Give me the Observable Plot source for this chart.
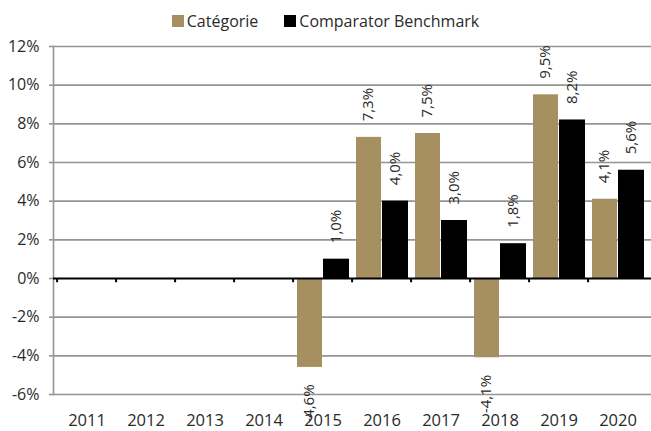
<!DOCTYPE html>
<html>
<head>
<meta charset="utf-8">
<script src="https://cdn.jsdelivr.net/npm/d3@7"></script>
<script src="https://cdn.jsdelivr.net/npm/@observablehq/plot@0.6"></script>
<style>
  html, body { margin: 0; padding: 0; background: white; }
  body { width: 651px; height: 431px; overflow: hidden; font-family: "Open Sans", sans-serif; color: #2a2a2a; }
  #legend { height: 35px; display: flex; justify-content: center; align-items: center; padding-top: 7px; box-sizing: border-box; font-size: 16px; }
  .item { display: flex; align-items: center; margin: 0 13px; }
  .sw { width: 12px; height: 12px; margin-right: 3px; }
</style>
</head>
<body>
<div id="legend"></div>
<div id="chart"></div>
<script>
const years = ["2011","2012","2013","2014","2015","2016","2017","2018","2019","2020"];
const categorie = [null, null, null, null, -4.6, 7.3, 7.5, -4.1, 9.5, 4.1];
const benchmark = [null, null, null, null, 1.0, 4.0, 3.0, 1.8, 8.2, 5.6];
const yTicks = [-6, -4, -2, 0, 2, 4, 6, 8, 10, 12];
const seriesNames = ["Catégorie", "Comparator Benchmark"];
const seriesColors = ["#A69062", "#000000"];

const legend = document.getElementById("legend");
seriesNames.forEach((n, i) => {
  const it = document.createElement("div");
  it.className = "item";
  const sw = document.createElement("div");
  sw.className = "sw";
  sw.style.background = seriesColors[i];
  const t = document.createElement("span");
  t.textContent = n;
  it.appendChild(sw); it.appendChild(t);
  legend.appendChild(it);
});

const rows = (vals) => years.map((y, i) => ({year: y, value: vals[i]})).filter(d => d.value != null);
const catRows = rows(categorie);
const benRows = rows(benchmark);
const fmt = v => v.toFixed(1).replace(".", ",") + "%";

const labelMarks = (data, dx) => [
  Plot.text(data.filter(d => d.value >= 0), {x: "year", y: "value", text: d => fmt(d.value), rotate: -90, textAnchor: "start", lineAnchor: "middle", dx, dy: -16, fill: "#2a2a2a", fontSize: 15}),
  Plot.text(data.filter(d => d.value < 0), {x: "year", y: "value", text: d => fmt(d.value), rotate: -90, textAnchor: "end", lineAnchor: "middle", dx, dy: 17, fill: "#2a2a2a", fontSize: 15})
];

const chart = Plot.plot({
  width: 651,
  height: 396,
  marginLeft: 53,
  marginRight: 0,
  marginTop: 11,
  marginBottom: 37,
  style: {fontFamily: "Open Sans, sans-serif", fontSize: "16px", color: "#2a2a2a", background: "white", overflow: "visible"},
  x: {type: "band", domain: years, padding: 0, axis: null},
  y: {domain: [-6, 12], axis: null},
  marks: [
    Plot.ruleY(yTicks.filter(t => t !== 0), {stroke: "#959595", strokeWidth: 1.6}),
    Plot.axisY({ticks: yTicks, tickSize: 4, tickPadding: 10, tickFormat: d => d + "%", stroke: "#959595", strokeWidth: 1.6, fontSize: 16, fill: "#2a2a2a", label: null}),
    Plot.frame({anchor: "left", stroke: "#959595", strokeWidth: 1.6}),
    Plot.barY(catRows, {x: "year", y: "value", fill: seriesColors[0], insetLeft: 4, insetRight: 30}),
    Plot.barY(benRows, {x: "year", y: "value", fill: seriesColors[1], insetLeft: 30, insetRight: 3}),
    Plot.ruleY([0], {stroke: "black", strokeWidth: 2}),
    Plot.ruleX(years, {x: d => d, y1: 0, y2: -0.22, dx: -29.9, stroke: "black", strokeWidth: 2}),
    Plot.axisX({tickSize: 0, tickPadding: 20, fontSize: 16.5, fill: "#2a2a2a", label: null}),
    ...labelMarks(catRows, -13.5),
    ...labelMarks(benRows, 13.5)
  ]
});
document.getElementById("chart").appendChild(chart);
</script>
</body>
</html>
